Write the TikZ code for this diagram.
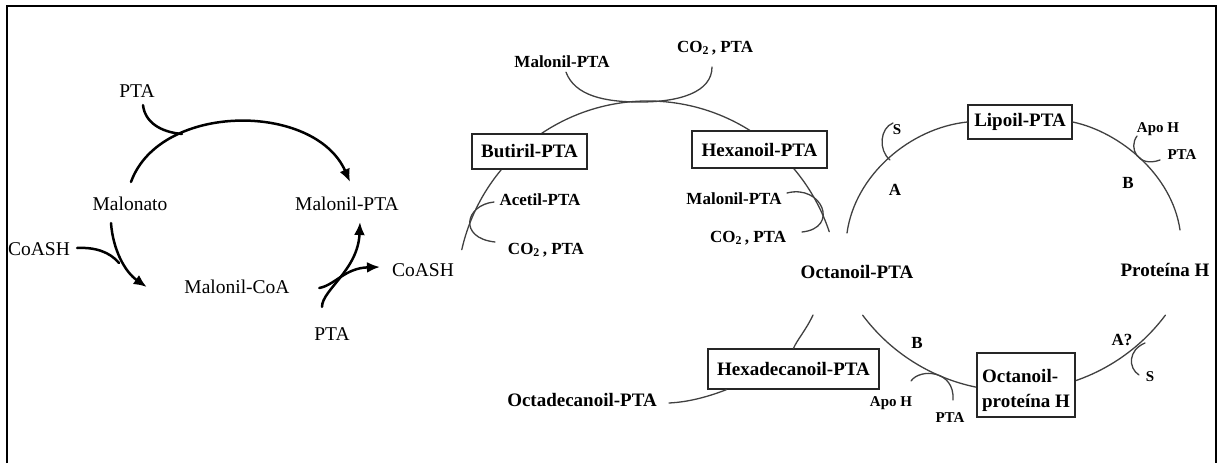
\documentclass[tikz,border=0pt]{standalone}
\usepackage{fontspec}
\setmainfont{Liberation Serif}
\usetikzlibrary{arrows.meta}

\tikzset{
  lbl/.style={font=\fontsize{19.5}{22}\selectfont, inner sep=2pt},
  blbl/.style={font=\bfseries\fontsize{19}{25}\selectfont, inner sep=2pt},
  slbl/.style={font=\bfseries\fontsize{17}{20}\selectfont, inner sep=2pt},
  tlbl/.style={font=\bfseries\fontsize{15}{18}\selectfont, inner sep=1pt},
  box/.style={blbl, draw=black!85, line width=1.4pt, fill=white, inner xsep=4pt, minimum height=35pt},
  rxn/.style={line width=2.5pt, -{Latex[length=13pt,width=11pt]}},
  hook/.style={line width=2.5pt},
  chain/.style={draw=black!75, line width=1.3pt},
}

\begin{document}
\begin{tikzpicture}[x=1pt,y=-1pt,line cap=round]
\useasboundingbox (0,0) rectangle (1217,463);
\draw[line width=2pt, line cap=butt] (7,463) |- (1216,6) -- (1216,463);

% malonato cycle
\node[lbl] (pta1) at (137,91) {PTA};
\node[lbl] (malonato) at (130,204) {Malonato};
\node[lbl] (malpta) at (347,204) {Malonil-PTA};
\node[lbl] (coash1) at (39,249) {CoASH};
\node[lbl] (malcoa) at (237,287) {Malonil-CoA};
\node[lbl] (pta2) at (332,334) {PTA};
\node[lbl] (coash2) at (423,270) {CoASH};

\draw[rxn] ([shift={(1pt,13pt)}]malonato.north) .. controls (160,102) and (315,102) .. ([shift={(3pt,13pt)}]malpta.north);
\draw[hook] ([shift={(6pt,-5.5pt)}]pta1.south) .. controls (145,122) and (160,132) .. (182,134);
\draw[rxn] ([shift={(-19pt,-10pt)}]malonato.south) .. controls (113,250) and (125,272) .. ([xshift=-35.5pt]malcoa.west);
\draw[hook] ([shift={(5pt,1pt)}]coash1.east) .. controls (95,247) and (110,252) .. (119,263);
\draw[rxn] ([shift={(-10pt,18.5pt)}]pta2.north) .. controls (322,290) and (358,270) .. ([shift={(13pt,-9pt)}]malpta.south);
\draw[rxn] ([shift={(27.5pt,-1pt)}]malcoa.east) .. controls (335,285) and (345,268) .. ([shift={(-10pt,3pt)}]coash2.west);

% elongation arcs
\draw[chain] (648,292) ++(192.8:191) arc[start angle=192.8, end angle=341.6, radius=191];
\draw[chain] (1014,202) ++(143.2:189) arc[start angle=143.2, end angle=36.8, radius=189];

% boxes
\node[box, minimum width=115pt] (butiril) at (529.5,151.5) {Butiril-PTA};
\node[box, minimum width=135pt, minimum height=37pt] (hexanoil) at (759.5,149.5) {Hexanoil-PTA};
\node[box, minimum width=104pt, minimum height=34pt] (lipoil) at (1020,122) {Lipoil-PTA};
\node[box, minimum width=171pt, minimum height=40pt] (hexadec) at (793.5,369) {Hexadecanoil-PTA};
\node[box, minimum width=98pt, minimum height=64pt, align=left] (octprot) at (1026,385) {\rule{0pt}{25pt}Octanoil-\\proteína H};

% labels
\node[slbl] (maltop) at (562,62) {Malonil-PTA};
\node[slbl] (co2top) at (715,48) {CO\textsubscript{2}\,, PTA};
\node[slbl] (acetil) at (540,200) {Acetil-PTA};
\node[slbl] (co2l) at (546,250) {CO\textsubscript{2}\,, PTA};
\node[slbl] (malmid) at (734,199) {Malonil-PTA};
\node[slbl] (co2r) at (748,238) {CO\textsubscript{2}\,, PTA};
\node[blbl] (octpta) at (857,272) {Octanoil-PTA};
\node[blbl] (proth) at (1165,270) {Proteína H};
\node[blbl] (octadec) at (582,400) {Octadecanoil-PTA};
\node[slbl] (la) at (895,190) {A};
\node[slbl] (lb) at (1128,183) {B};
\node[tlbl] (s1) at (897,130) {S};
\node[tlbl] (apoh1) at (1158,129) {Apo H};
\node[tlbl] (pta5) at (1182,155) {PTA};
\node[slbl] (lb2) at (917,343) {B};
\node[slbl] (la2) at (1122,340) {A?};
\node[tlbl] (s2) at (1150,377) {S};
\node[tlbl] (apoh2) at (891,403) {Apo H};
\node[tlbl] (pta6) at (950,418) {PTA};

% side chains
\draw[chain] ([shift={(4pt,-2pt)}]maltop.south) .. controls (575,96) and (605,102) .. (640,102) .. controls (680,102) and (712,92) .. (712,67);
\draw[chain] (494,202) .. controls (465,205) and (458,238) .. (495,242);
\draw[chain] (787,193) .. controls (822,184) and (840,228) .. (802,232);
\draw[chain] (847,233) .. controls (855,175) and (910,128) .. (lipoil.west);
\draw[chain] (lipoil.east) .. controls (1120,132) and (1172,175) .. (1180,230);
\draw[chain] (893,123) .. controls (880,128) and (878,150) .. (890,160);
\draw[chain] (1137,136) .. controls (1128,148) and (1138,168) .. (1160,160);
\draw[chain] (1145,343) .. controls (1128,350) and (1128,368) .. (1139,375);
\draw[chain] (911,381) .. controls (920,368) and (955,370) .. (953,400);
\draw[chain] (813,315) .. controls (806,330) and (797,340) .. (hexadec.north);
\draw[chain] ([shift={(10pt,-3pt)}]octadec.east) .. controls (690,402) and (710,396) .. ([xshift=19pt]hexadec.south west);
\end{tikzpicture}
\end{document}
